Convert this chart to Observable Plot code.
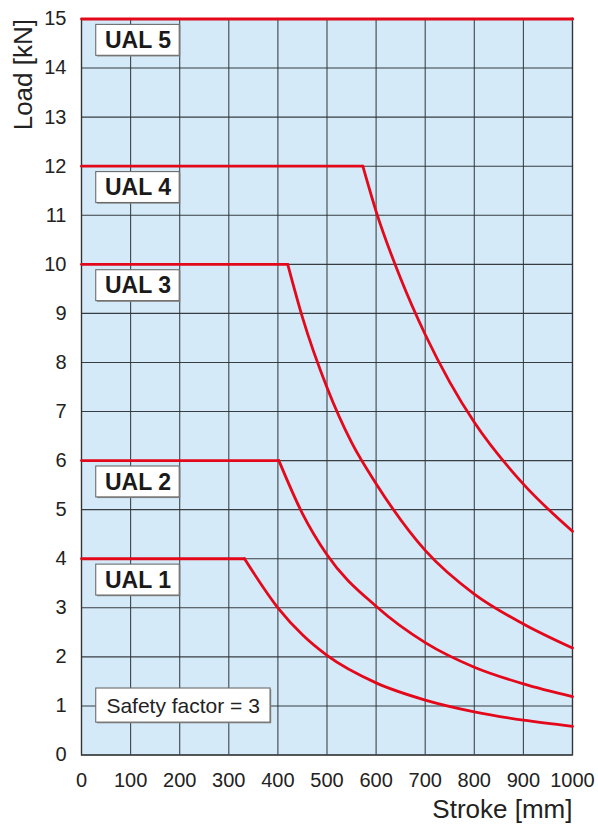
<!DOCTYPE html>
<html><head><meta charset="utf-8">
<script src="https://cdn.jsdelivr.net/npm/d3@7"></script>
<script src="https://cdn.jsdelivr.net/npm/@observablehq/plot@0.6"></script>
<style>body{margin:0;background:#fff} svg{display:block}</style>
</head><body><div id="chart"></div>
<script>
// ---- data ----
const xTicks = [0,100,200,300,400,500,600,700,800,900,1000];
const yTicks = [0,1,2,3,4,5,6,7,8,9,10,11,12,13,14,15];
const seriesNames = ["UAL 1","UAL 2","UAL 3","UAL 4","UAL 5"];
const maxLoads = [4, 6, 10, 12, 15];

const ual1Stroke = [0,332,400,450,500,600,700,800,900,1000];
const ual1Load   = [4,4,3.0,2.45,2.03,1.47,1.12,0.88,0.71,0.585];
const ual2Stroke = [0,402,450,500,600,700,800,900,1000];
const ual2Load   = [6,6,4.92,4.08,3.03,2.29,1.79,1.45,1.19];
const ual3Stroke = [0,420,450,500,550,600,700,800,900,1000];
const ual3Load   = [10,10,8.92,7.49,6.37,5.53,4.17,3.28,2.67,2.18];
const ual4Stroke = [0,573,600,650,700,750,800,900,1000];
const ual4Load   = [12,12,11.08,9.71,8.57,7.6,6.78,5.52,4.56];
const ual5Stroke = [0,1000];
const ual5Load   = [15,15];

const safetyText = "Safety factor = 3";
const safetyLoad = 1;

// ---- build tables ----
const strokes = [ual1Stroke, ual2Stroke, ual3Stroke, ual4Stroke, ual5Stroke];
const loads = [ual1Load, ual2Load, ual3Load, ual4Load, ual5Load];
const flat = [], curved = [];
seriesNames.forEach((s, i) => {
  strokes[i].forEach((x, j) => {
    const p = {series: s, stroke: x, load: loads[i][j]};
    if (j <= 1) flat.push(p);
    if (j >= 1) curved.push(p);
  });
});
const labels = seriesNames.map((s, i) => ({series: s, level: maxLoads[i]}));

const RED = "#e3081a";
const GRID = "#2e3436";
const BG = "#d4eaf9";
const FONT = "'Liberation Sans', Arial, Helvetica, sans-serif";

const chart = Plot.plot({
  width: 598,
  height: 826,
  marginLeft: 81,
  marginRight: 26,
  marginTop: 18.5,
  marginBottom: 71.5,
  style: {fontFamily: FONT, fontSize: "20px", color: "#222", background: "#fff"},
  x: {domain: [0, 1000]},
  y: {domain: [0, 15]},
  marks: [
    Plot.frame({fill: BG}),
    Plot.gridX(xTicks, {stroke: GRID, strokeOpacity: 0.9, strokeWidth: 1.1}),
    Plot.gridY(yTicks, {stroke: GRID, strokeOpacity: 0.95, strokeWidth: 1.1}),
    Plot.frame({stroke: "#333", strokeWidth: 1.3}),
    Plot.axisX(xTicks, {tickSize: 0, tickPadding: 18, fontSize: 20, label: null, fill: "#222", tickFormat: d => String(d)}),
    Plot.axisY(yTicks, {tickSize: 0, tickPadding: 15, fontSize: 20, label: null, fill: "#222", tickFormat: d => String(d)}),
    Plot.line(flat, {x: "stroke", y: "load", z: "series", stroke: RED, strokeWidth: 2.8}),
    Plot.line(curved, {x: "stroke", y: "load", z: "series", stroke: RED, strokeWidth: 2.8, curve: "monotone-x"}),
    // label boxes
    Plot.rect(labels, {x1: () => 30, x2: () => 200, y1: d => d.level - 0.75, y2: d => d.level - 0.12, fill: "#8a8a8a", dx: 1.2, dy: 1.2}),
    Plot.rect(labels, {x1: () => 30, x2: () => 200, y1: d => d.level - 0.75, y2: d => d.level - 0.12, fill: "white", stroke: "#6b6b6b", strokeWidth: 1.1}),
    Plot.text(labels, {x: () => 115, y: d => d.level - 0.44, text: "series", fontWeight: "bold", fontSize: 23, fill: "#1a1a1a"}),
    // safety factor box
    Plot.rect([safetyLoad], {x1: () => 30, x2: () => 385, y1: d => d - 0.34, y2: d => d + 0.355, fill: "#8a8a8a", dx: 1.2, dy: 1.2}),
    Plot.rect([safetyLoad], {x1: () => 30, x2: () => 385, y1: d => d - 0.34, y2: d => d + 0.355, fill: "white", stroke: "#6b6b6b", strokeWidth: 1.1}),
    Plot.text([safetyText], {x: () => 207, y: () => safetyLoad, text: d => d, fontSize: 21, fill: "#222"}),
    // axis titles
    Plot.text(["Stroke [mm]"], {frameAnchor: "bottom-right", dy: 63, textAnchor: "end", lineAnchor: "bottom", fontSize: 26, fill: "#222"}),
    Plot.text(["Load [kN]"], {frameAnchor: "top-left", dx: -50, dy: 0, rotate: -90, textAnchor: "end", lineAnchor: "bottom", fontSize: 26, fill: "#222"})
  ]
});
document.getElementById("chart").appendChild(chart);
</script>
</body></html>
